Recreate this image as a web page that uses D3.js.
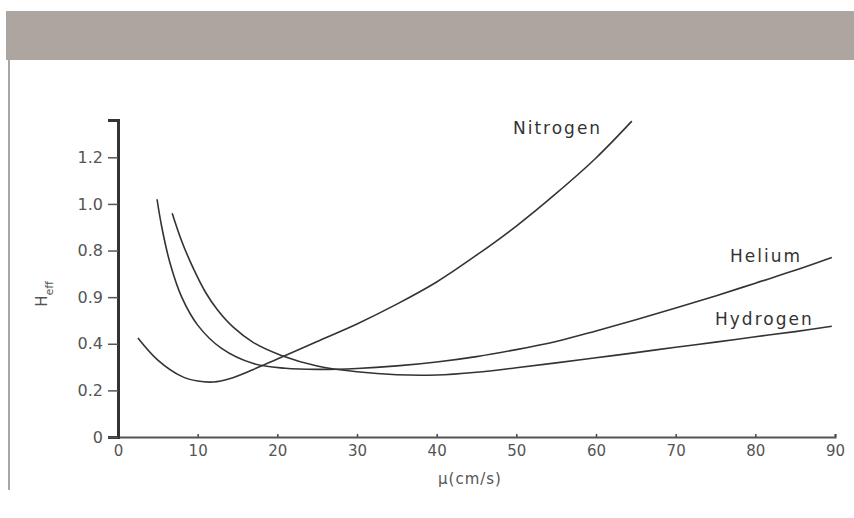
<!DOCTYPE html>
<html>
<head>
<meta charset="utf-8">
<script src="https://cdn.jsdelivr.net/npm/d3@7"></script>
<style>
  body { margin: 0; background: #fff; }
  svg { display: block; }
</style>
</head>
<body>
<svg id="chart" width="854" height="518"></svg>
<script>
// values: [velocity cm/s, H_eff]
const nitrogen = [[2.5,0.425],[5,0.33],[8,0.26],[10,0.24],[12,0.236],[14,0.25],[17,0.29],[20,0.335],[25,0.41],[30,0.485],[35,0.57],[40,0.665],[45,0.78],[50,0.905],[55,1.045],[60,1.197],[64.5,1.355]];
const helium = [[4.9,1.02],[5.5,0.9],[6.5,0.75],[8,0.6],[10,0.48],[13,0.38],[17,0.315],[21,0.295],[25,0.29],[30,0.294],[35,0.305],[40,0.322],[45,0.345],[50,0.375],[55,0.41],[60,0.455],[65,0.503],[70,0.553],[75,0.605],[80,0.66],[85,0.715],[89.6,0.77]];
const hydrogen = [[6.8,0.96],[8,0.84],[9.5,0.72],[11,0.62],[12.5,0.545],[14.5,0.47],[17,0.405],[20.5,0.35],[25,0.305],[30,0.28],[35,0.267],[40,0.266],[45,0.278],[50,0.297],[55,0.318],[60,0.34],[65,0.362],[70,0.385],[75,0.407],[80,0.43],[85,0.452],[89.6,0.475]];
const seriesNames = ['Nitrogen', 'Helium', 'Hydrogen'];
const xTicks = [0,10,20,30,40,50,60,70,80,90];
const yTicks = [0,0.2,0.4,0.6,0.8,1.0,1.2];
const yTickLabels = ['0','0.2','0.4','0.9','0.8','1.0','1.2'];

var svg = d3.select('#chart');

// grey banner + left rule
svg.append('rect').attr('x', 6).attr('y', 11).attr('width', 848).attr('height', 49).attr('fill', '#ada59f');
svg.append('line').attr('x1', 9).attr('x2', 9).attr('y1', 60).attr('y2', 490)
   .attr('stroke', '#8a8a8a').attr('stroke-width', 1.5);

var x = d3.scaleLinear().domain([0, 90]).range([118, 835]);
var y = d3.scaleLinear().domain([0, 1.36]).range([437, 120]);

// x axis
var gx = svg.append('g')
    .attr('transform', 'translate(0,437)')
    .call(d3.axisBottom(x).tickValues(xTicks).tickSize(-3).tickPadding(8).tickFormat(d3.format('d')));
gx.select('.domain').attr('stroke', '#555').attr('stroke-width', 2);
gx.selectAll('.tick line').attr('stroke', '#444').attr('stroke-width', 1.5);
gx.selectAll('text').attr('font-family', 'DejaVu Sans').attr('font-size', 15).attr('fill', '#555');

// y axis
var gy = svg.append('g')
    .attr('transform', 'translate(118,0)')
    .call(d3.axisLeft(y).tickValues(yTicks).tickSize(10).tickPadding(5)
      .tickFormat(function(d, i) { return yTickLabels[i]; }));
gy.select('.domain').attr('stroke', '#333').attr('stroke-width', 3);
gy.selectAll('.tick line').attr('stroke', '#555').attr('stroke-width', 1.5);
gy.selectAll('text').attr('font-family', 'DejaVu Sans').attr('font-size', 16).attr('fill', '#555');

// axis titles
svg.append('text')
   .attr('x', 470).attr('y', 484)
   .attr('text-anchor', 'middle')
   .attr('font-family', 'DejaVu Sans').attr('font-size', 15).attr('letter-spacing', 1)
   .attr('fill', '#555')
   .text('μ(cm/s)');

var yt = svg.append('text')
   .attr('transform', 'translate(47,294) rotate(-90)')
   .attr('text-anchor', 'middle')
   .attr('font-family', 'DejaVu Sans').attr('font-size', 15)
   .attr('fill', '#555');
yt.append('tspan').text('H');
yt.append('tspan').attr('dy', 6).attr('font-size', 11).text('eff');

// curves
var line = d3.line()
    .x(function(d) { return x(d[0]); })
    .y(function(d) { return y(d[1]); })
    .curve(d3.curveCatmullRom.alpha(0.5));

[nitrogen, helium, hydrogen].forEach(function(s) {
  svg.append('path')
     .datum(s)
     .attr('d', line)
     .attr('fill', 'none')
     .attr('stroke', '#333')
     .attr('stroke-width', 1.6);
});

// series labels
var labelPos = [[513, 134], [730, 262], [715, 325]];
seriesNames.forEach(function(name, i) {
  svg.append('text')
     .attr('x', labelPos[i][0]).attr('y', labelPos[i][1])
     .attr('font-family', 'DejaVu Sans').attr('font-size', 17)
     .attr('letter-spacing', 2)
     .attr('fill', '#333')
     .text(name);
});
</script>
</body>
</html>
